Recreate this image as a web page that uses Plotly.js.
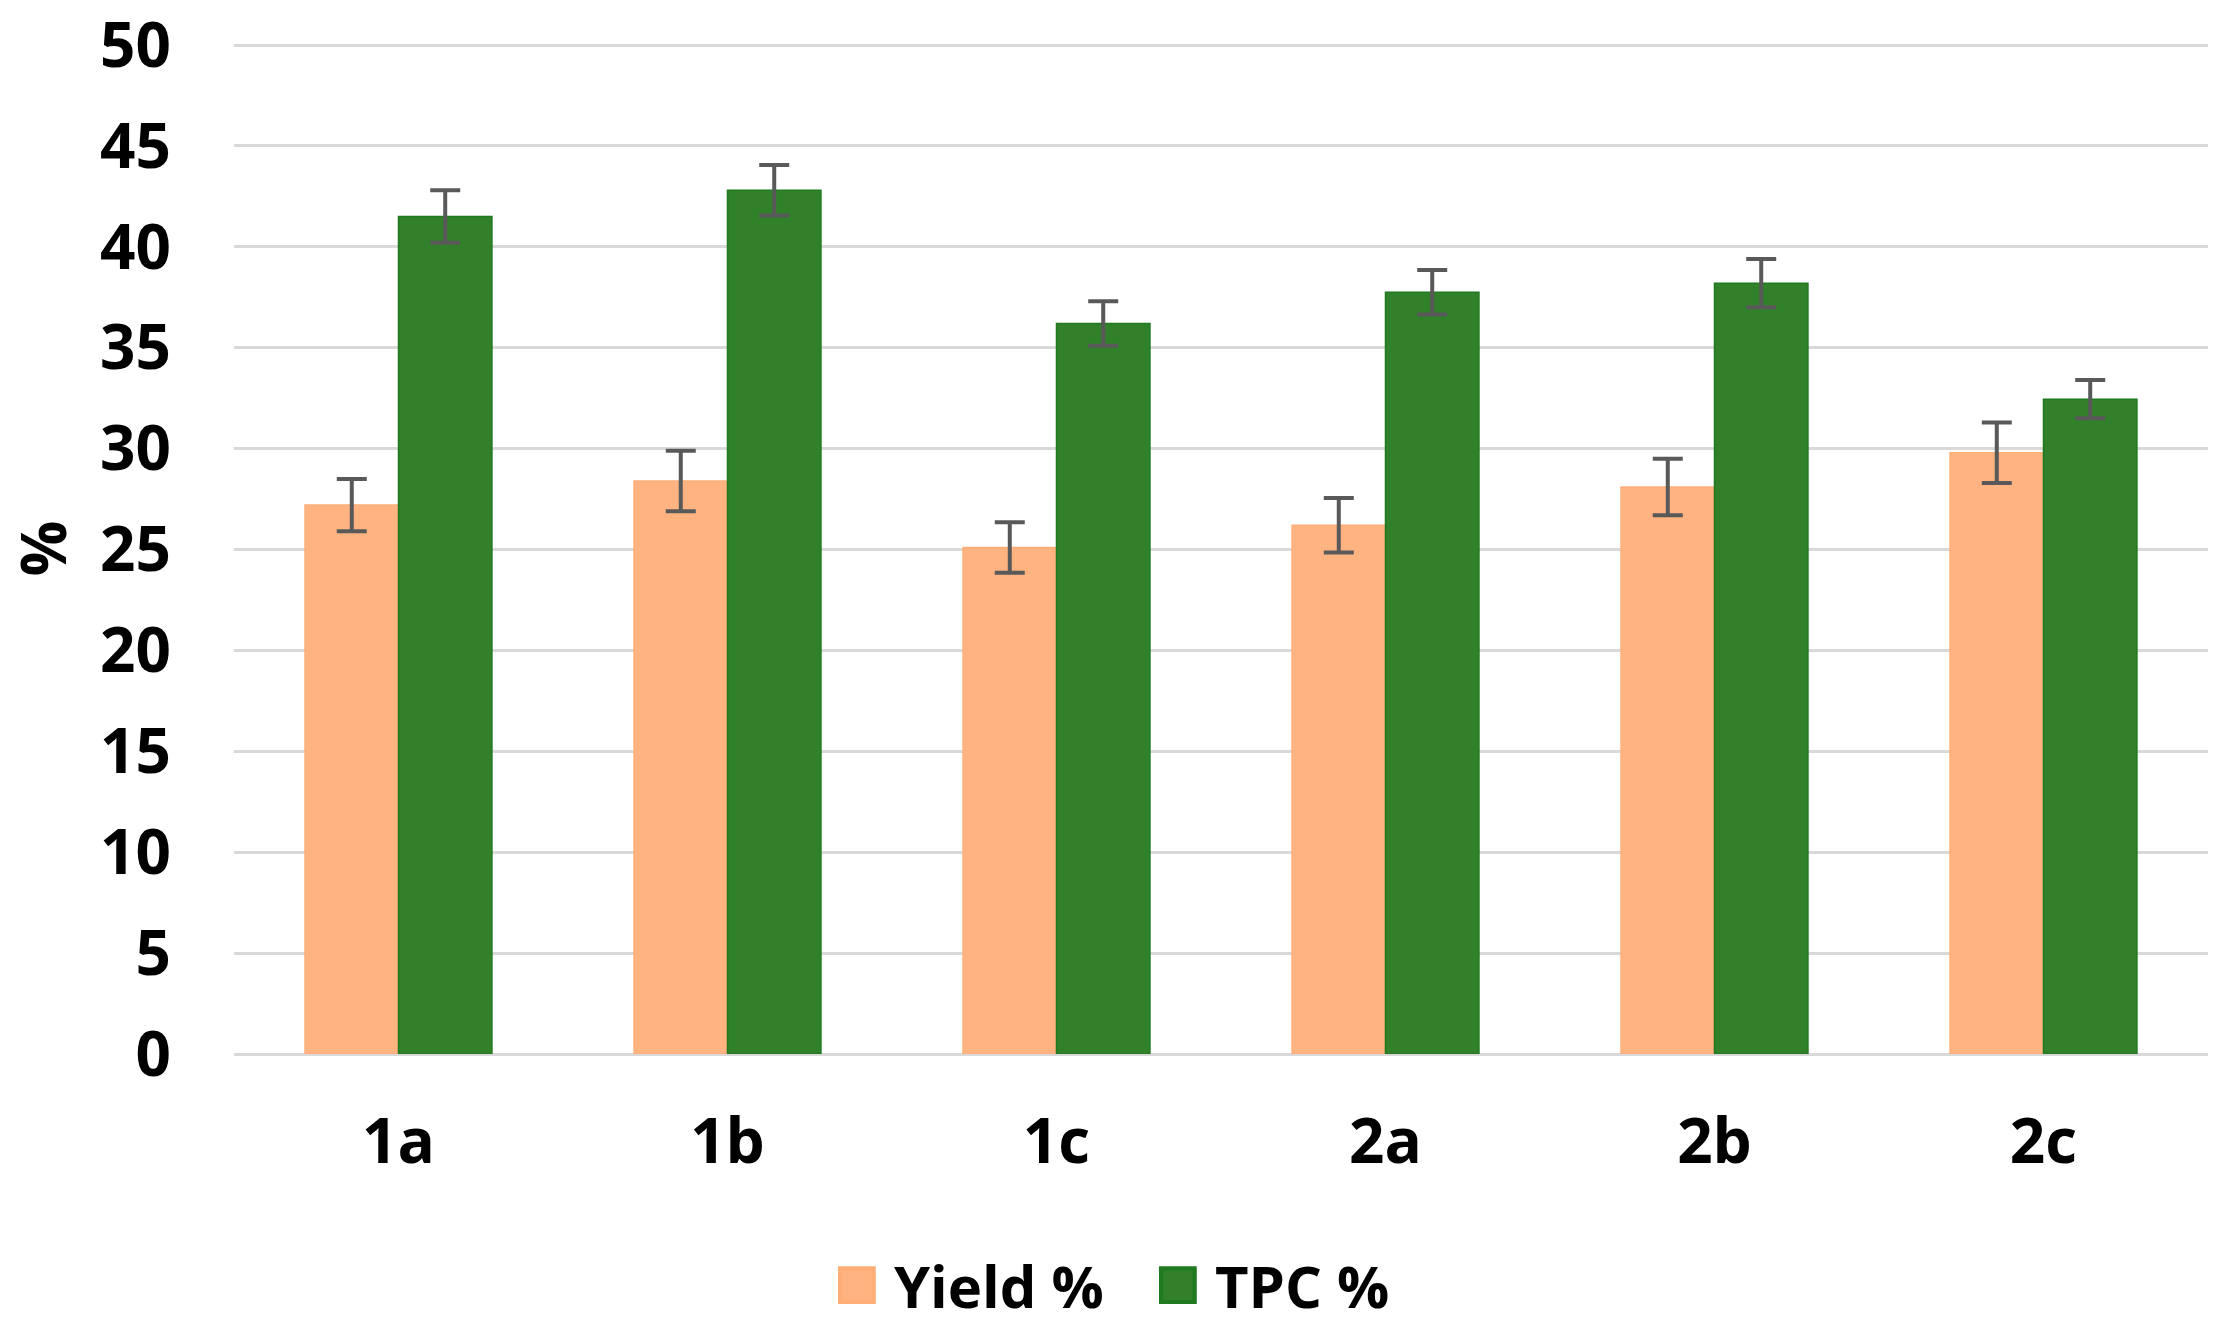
<!DOCTYPE html>
<html>
<head>
<meta charset="utf-8">
<script src="https://cdn.plot.ly/plotly-3.0.1.min.js"></script>
<style>
html,body{margin:0;padding:0;background:#fff;}
#chart{width:2238px;height:1330px;}
</style>
</head>
<body>
<div id="chart"></div>
<script>
const categories = ['1a', '1b', '1c', '2a', '2b', '2c'];
const yieldValues = [27.2, 28.4, 25.1, 26.2, 28.1, 29.8];
const yieldErrors = [1.3, 1.5, 1.25, 1.35, 1.4, 1.5];
const tpcValues = [41.5, 42.8, 36.2, 37.75, 38.2, 32.45];
const tpcErrors = [1.3, 1.25, 1.1, 1.1, 1.2, 0.95];
const yTickValues = [0, 5, 10, 15, 20, 25, 30, 35, 40, 45, 50];

const FONT = 'Open Sans, Lato, DejaVu Sans, sans-serif';
const errStyle = {type: 'data', visible: true, color: '#595959', thickness: 4, width: 15};

const traces = [
  {
    type: 'bar', name: 'Yield %', x: categories, y: yieldValues,
    error_y: Object.assign({array: yieldErrors}, errStyle),
    marker: {color: '#FFB381', line: {color: '#FFAE78', width: 1.5}}
  },
  {
    type: 'bar', name: 'TPC %', x: categories, y: tpcValues,
    error_y: Object.assign({array: tpcErrors}, errStyle),
    marker: {color: '#31812A', line: {color: '#1F7A1F', width: 1.5}}
  }
];

const layout = {
  width: 2238, height: 1330,
  paper_bgcolor: '#fff', plot_bgcolor: '#fff',
  margin: {l: 234, r: 30, t: 42.5, b: 275.5},
  barmode: 'group', bargap: 0.432, bargroupgap: 0,
  font: {family: FONT, size: 62, color: '#000', weight: 'bold'},
  showlegend: true,
  legend: {
    orientation: 'h', xref: 'container', yref: 'container',
    x: 0.5205, xanchor: 'center', y: 0, yanchor: 'bottom',
    font: {family: FONT, size: 58, color: '#000', weight: 'bold'},
    itemwidth: 40, entrywidth: 266, entrywidthmode: 'pixels', traceorder: 'normal'
  },
  xaxis: {
    type: 'category', showgrid: false, zeroline: false, showline: false, ticks: '',
    tickfont: {family: FONT, size: 62, color: '#000', weight: 'bold'},
    ticklabelstandoff: 46
  },
  yaxis: {
    range: [0, 50.1], tickvals: yTickValues, ticktext: yTickValues.map(String),
    showgrid: true, gridcolor: '#D9D9D9', gridwidth: 3,
    zeroline: true, zerolinecolor: '#D9D9D9', zerolinewidth: 3,
    showline: false, ticks: '',
    tickfont: {family: FONT, size: 62, color: '#000', weight: 'bold'},
    ticklabelstandoff: 62,
    title: {text: '%', standoff: 30, font: {family: FONT, size: 62, color: '#000', weight: 'bold'}}
  }
};

Plotly.newPlot('chart', traces, layout, {staticPlot: true, displayModeBar: false}).then(function () {
  document.querySelectorAll('.legend [clip-path]').forEach(function (el) {
    el.removeAttribute('clip-path');
  });
  document.querySelectorAll('.legend .legendpoints path').forEach(function (p) {
    p.setAttribute('transform', 'translate(13,0) scale(2.8)');
  });
});
</script>
</body>
</html>
